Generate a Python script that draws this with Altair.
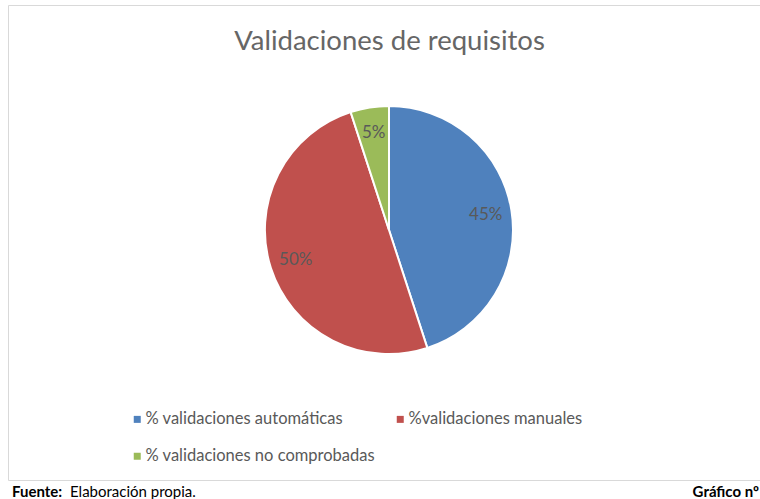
import altair as alt
import pandas as pd

# ---- data ----
categorias = ["% validaciones automáticas", "%validaciones manuales", "% validaciones no comprobadas"]
valores = [45, 50, 5]
etiquetas = ["45%", "50%", "5%"]
orden = [0, 1, 2]
colores = ["#4F81BD", "#C0504D", "#9BBB59"]
titulo = "Validaciones de requisitos"
fuente_bold = "Fuente:"
fuente_text = "Elaboración propia."
grafico = "Gráfico nº"

df = pd.DataFrame({"categoria": categorias, "valor": valores, "etiqueta": etiquetas, "orden": orden})
one = pd.DataFrame({"k": [0]})

W, H = 760, 499
CX, CY = 389, 230
FONT = "Lato"
GRAY = "#595959"

color = alt.Color(
    "categoria:N",
    scale=alt.Scale(domain=categorias, range=colores),
    legend=alt.Legend(
        title=None,
        values=categorias,
        orient="none",
        direction="horizontal",
        legendX=129,
        legendY=411,
        columns=2,
        symbolType="square",
        symbolSize=49,
        symbolStrokeWidth=0,
        labelFont=FONT,
        labelFontSize=16.5,
        labelColor=GRAY,
        labelOffset=0,
        columnPadding=17,
        rowPadding=20,
        padding=0,
        labelLimit=400,
    ),
)

border = alt.Chart(one).mark_rect(fillOpacity=0, stroke="#D9D9D9", strokeWidth=1).encode(
    x=alt.value(8.5), x2=alt.value(775), y=alt.value(5.5), y2=alt.value(480.5)
)

pie = alt.Chart(df).mark_arc(radius=124, stroke="white", strokeWidth=2).encode(
    theta=alt.Theta("valor:Q", stack=True),
    color=color,
    order=alt.Order("orden:Q"),
    x=alt.value(CX),
    y=alt.value(CY),
)

labels = alt.Chart(df).mark_text(radius=98, font=FONT, fontSize=17, color=GRAY).encode(
    theta=alt.Theta("valor:Q", stack=True),
    order=alt.Order("orden:Q"),
    text="etiqueta:N",
    x=alt.value(CX),
    y=alt.value(CY),
)

title = alt.Chart(pd.DataFrame({"t": [titulo]})).mark_text(
    font=FONT, fontSize=27.5, color="#666666", align="center", baseline="alphabetic"
).encode(text="t:N", x=alt.value(389.5), y=alt.value(50))

f1 = alt.Chart(pd.DataFrame({"t": [fuente_bold]})).mark_text(
    font=FONT, fontSize=15, fontWeight="bold", color="black", align="left", baseline="alphabetic"
).encode(text="t:N", x=alt.value(12), y=alt.value(497))

f2 = alt.Chart(pd.DataFrame({"t": [fuente_text]})).mark_text(
    font=FONT, fontSize=15, color="black", align="left", baseline="alphabetic"
).encode(text="t:N", x=alt.value(70), y=alt.value(497))

f3 = alt.Chart(pd.DataFrame({"t": [grafico]})).mark_text(
    font=FONT, fontSize=15, fontWeight="bold", color="black", align="right", baseline="alphabetic"
).encode(text="t:N", x=alt.value(759), y=alt.value(497))

chart = alt.layer(border, pie, labels, title, f1, f2, f3).properties(
    width=W, height=H, padding=0, autosize=alt.AutoSizeParams(type="none"), background="white"
).configure_view(stroke=None)

chart.save("out.html", embed_options={"renderer": "svg", "actions": False})
